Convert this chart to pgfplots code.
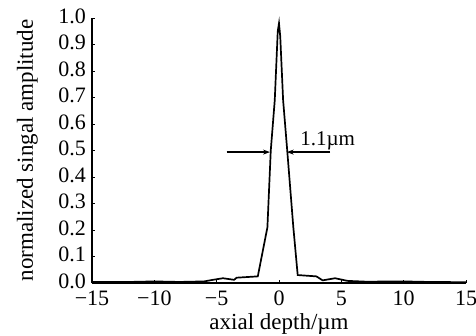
\documentclass[border=0pt]{standalone}
\usepackage{pgfplots}
\pgfplotsset{compat=1.18}
\usepackage{fontspec}
\setmainfont{Liberation Serif}
\usetikzlibrary{arrows.meta}
\begin{document}
\begin{tikzpicture}
\begin{axis}[
  scale only axis,
  width=374pt, height=265pt,
  xmin=-15, xmax=15, ymin=0, ymax=1,
  axis x line=bottom, axis y line=left,
  axis line style={-, line width=1.2pt},
  tick style={black, line width=0.9pt},
  major tick length=3.5pt,
  tick align=inside,
  xtick={-15,-10,...,15},
  xticklabels={−15,−10,−5,0,5,10,15},
  ytick={0,0.1,...,1.0},
  /pgf/number format/assume math mode=true,
  yticklabel style={/pgf/number format/fixed, /pgf/number format/fixed zerofill, /pgf/number format/precision=1, yshift=2pt, inner sep=2pt, xshift=-4pt},
  xticklabel style={inner sep=2pt, yshift=-6pt},
  ticklabel style={font=\fontsize{22}{24}\selectfont},
  label style={font=\fontsize{23}{25}\selectfont},
  xlabel={axial depth/µm},
  ylabel={normalized singal amplitude},
  xlabel style={at={(rel axis cs:0.5,0)}, anchor=base, yshift=-46.5pt},
  ylabel style={at={(rel axis cs:0,0.5)}, anchor=base, yshift=59pt},
  clip=false,
]
\addplot[black, line width=1.7pt] coordinates {
(-15,0.004) (-12,0.004) (-10,0.006) (-8,0.004) (-6,0.006) (-5.3,0.012) (-4.5,0.018) (-3.6,0.012) (-3.4,0.02) (-1.7,0.025) (-0.93,0.21) (-0.66,0.5) (-0.34,0.69) (-0.1,0.95) (0,0.98) (0.1,0.93) (0.33,0.69) (0.66,0.5) (1.15,0.21) (1.5,0.03) (3,0.025) (3.5,0.01) (4.5,0.018) (5.5,0.008) (7,0.005) (10,0.006) (12,0.004) (15,0.003)
};
\draw[-{Stealth[length=7pt,width=5pt]}, line width=1.2pt] (axis cs:-4.2,0.494) -- (axis cs:-0.72,0.494);
\draw[-{Stealth[length=7pt,width=5pt]}, line width=1.2pt] (axis cs:4.1,0.494) -- (axis cs:0.62,0.494);
\node[anchor=base west, font=\fontsize{21}{23}\selectfont, inner sep=0pt] at (axis cs:1.7,0.52) {1.1µm};
\coordinate (bl) at (rel axis cs:0,0);
\coordinate (tr) at (rel axis cs:1,1);
\end{axis}
\pgfresetboundingbox
\path[use as bounding box] ([shift={(-92pt,-52pt)}]bl) rectangle ([shift={(10pt,18pt)}]tr);
\end{tikzpicture}
\end{document}
